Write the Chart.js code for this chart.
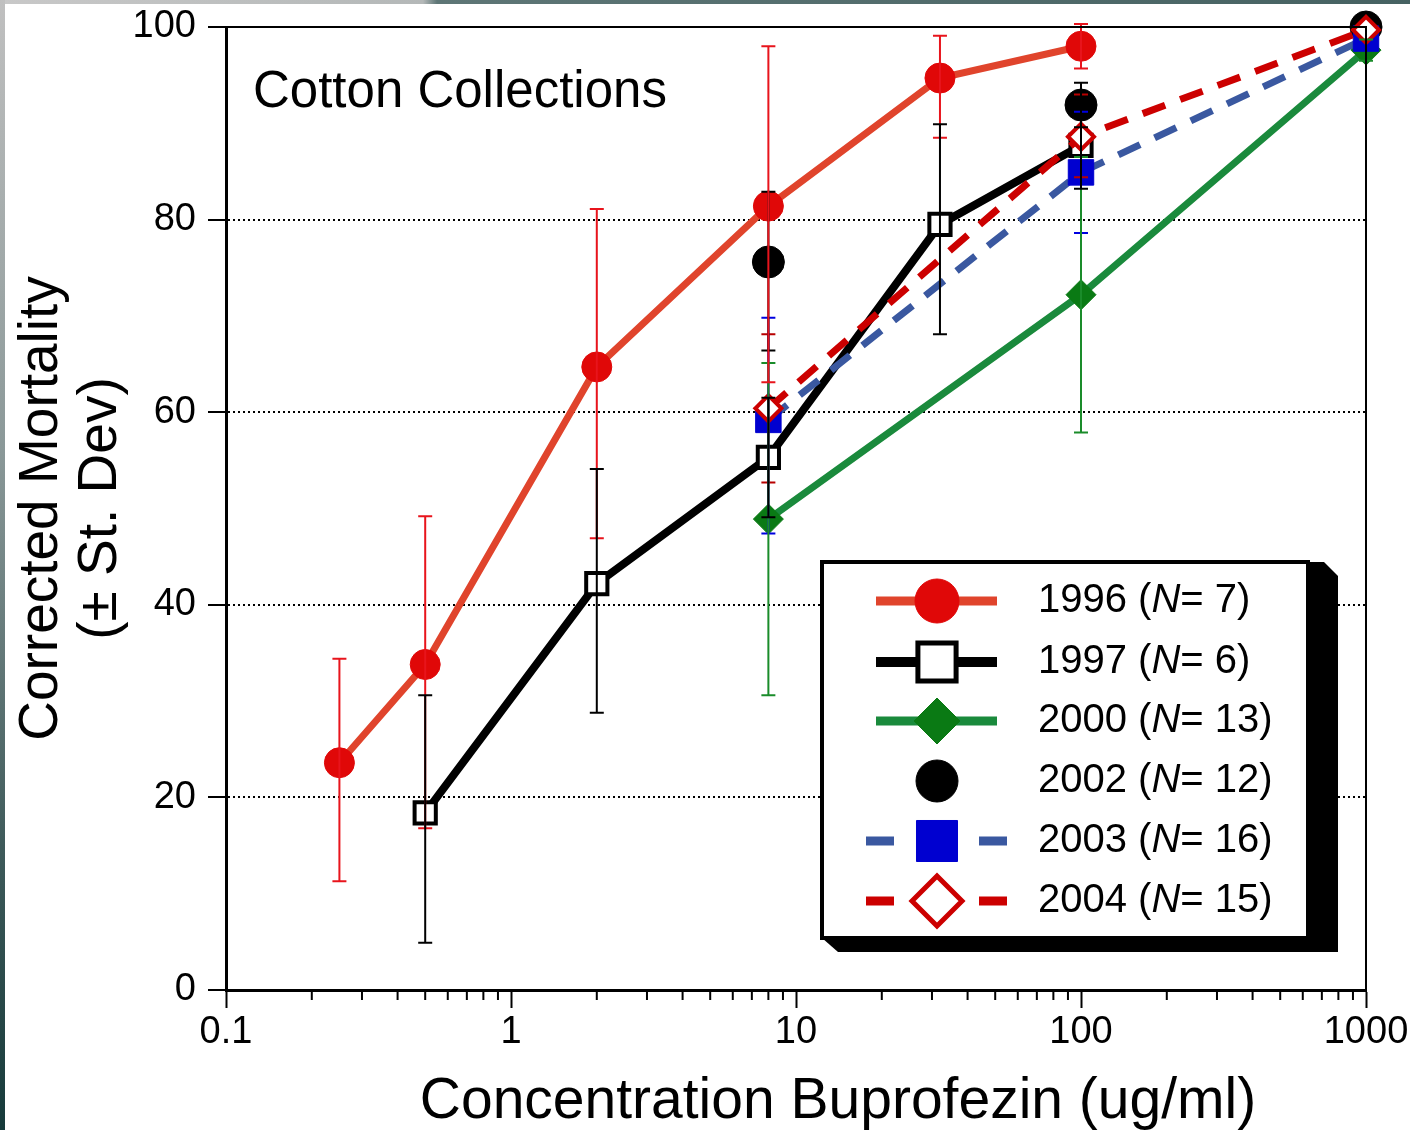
<!DOCTYPE html>
<html>
<head>
<meta charset="utf-8">
<script src="https://cdn.jsdelivr.net/npm/chart.js@4/dist/chart.umd.min.js"></script>
<style>
html,body{margin:0;padding:0;background:#fff;}
#wrap{position:relative;width:1410px;height:1130px;overflow:hidden;background:#fff;}
#c{position:absolute;left:0;top:0;}
#topstrip{position:absolute;left:0;top:0;width:1410px;height:4px;background:linear-gradient(90deg,#c8c8c8 0%,#b4b8b8 30%,#5e7676 31%,#466262 100%);}
#leftstrip{position:absolute;left:0;top:0;width:5px;height:1130px;background:linear-gradient(180deg,#c0c0c0 0%,#8a9898 40%,#3e5a5a 75%,#163a3a 100%);}
</style>
</head>
<body>
<div id="wrap">
<canvas id="c" width="1410" height="1130"></canvas>
<div id="topstrip"></div>
<div id="leftstrip"></div>
</div>
<script>
// ---------------- DATA ----------------
const x1996 = [0.25, 0.5, 2, 8, 32, 100];
const y1996 = [23.6, 33.8, 64.7, 81.4, 94.7, 98.0];
const lo1996 = [11.3, 16.8, 46.9, 63.1, 88.5, 95.7];
const hi1996 = [34.4, 49.2, 81.1, 98.0, 99.1, 100.3];

const x1997 = [0.5, 2, 8, 32, 100];
const y1997 = [18.4, 42.2, 55.3, 79.5, 87.7];
const lo1997 = [4.9, 28.8, 49.1, 68.1, 83.2];
const hi1997 = [30.6, 54.1, 61.5, 89.9, 92.2];

const x2000 = [8, 100, 1000];
const y2000 = [48.9, 72.2, 97.6];
const lo2000 = [30.6, 57.9, 96.5];
const hi2000 = [65.1, 86.5, 98.7];

const x2002 = [8, 100, 1000];
const y2002 = [75.6, 91.9, 100];
const lo2002 = [66.4, 89.6, null];
const hi2002 = [82.9, 94.2, null];

const x2003 = [8, 100, 1000];
const y2003 = [59.2, 84.9, 98.8];
const lo2003 = [47.4, 78.6, null];
const hi2003 = [69.8, 91.2, null];

const x2004 = [8, 100, 1000];
const y2004 = [60.4, 88.6, 99.7];
const lo2004 = [52.7, 84.4, null];
const hi2004 = [68.1, 93.0, null];

const legendYears = ['1996', '1997', '2000', '2002', '2003', '2004'];
const legendN = ['7', '6', '13', '12', '16', '15'];

const xMajorTicks = [0.1, 1, 10, 100, 1000];
const xTickLabels = ['0.1', '1', '10', '100', '1000'];
const yTickStep = 20;

const chartTitle = 'Cotton Collections';
const xAxisTitle = 'Concentration Buprofezin (ug/ml)';
const yAxisTitle = ['Corrected Mortality', '(\u00B1 St. Dev)'];

// ---------------- HELPERS ----------------
const FONT = '"Liberation Sans", Arial, Helvetica, sans-serif';
const pts = (xs, ys) => xs.map((v, i) => ({x: v, y: ys[i]}));

const xAllTicks = [];
for (let d = 0; d < xMajorTicks.length; d++) {
  const base = xMajorTicks[d];
  xAllTicks.push(base);
  if (d < xMajorTicks.length - 1) {
    for (let m = 2; m <= 9; m++) xAllTicks.push(+(base * m).toPrecision(6));
  }
}
const isMajor = v => xMajorTicks.some(m => Math.abs(v - m) / m < 1e-9);

// ---------------- DATASETS ----------------
const datasets = [
  { label: '2004', data: pts(x2004, y2004), errLo: lo2004, errHi: hi2004, errColor: '#b80000',
    borderColor: '#cc0000', borderWidth: 7, borderDash: [24, 16],
    pointStyle: 'rectRot', pointRadius: 13, pointBackgroundColor: '#ffffff', pointBorderColor: '#cc0000', pointBorderWidth: 4,
    legendRadius: 25, legendDashed: true, order: 0 },
  { label: '2003', data: pts(x2003, y2003), errLo: lo2003, errHi: hi2003, errColor: '#0000e0',
    borderColor: '#3a58a0', borderWidth: 7, borderDash: [24, 16],
    pointStyle: 'rect', pointRadius: 18, pointBackgroundColor: '#0000d0', pointBorderColor: '#0000d0', pointBorderWidth: 1,
    legendRadius: 29, legendDashed: true, order: 1 },
  { label: '2000', data: pts(x2000, y2000), errLo: lo2000, errHi: hi2000, errColor: '#1a8c2a',
    borderColor: '#1a8a3c', borderWidth: 7,
    pointStyle: 'rectRot', pointRadius: 15, pointBackgroundColor: '#0a7a14', pointBorderColor: '#0a7a14', pointBorderWidth: 1,
    legendRadius: 23, order: 2 },
  { label: '2002', data: pts(x2002, y2002), errLo: lo2002, errHi: hi2002, errColor: '#000000',
    showLine: false, borderColor: '#000000', borderWidth: 0,
    pointStyle: 'circle', pointRadius: 16, pointBackgroundColor: '#000000', pointBorderColor: '#000000', pointBorderWidth: 1,
    legendRadius: 21, noLine: true, order: 3 },
  { label: '1996', data: pts(x1996, y1996), errLo: lo1996, errHi: hi1996, errColor: '#e8141c',
    borderColor: '#e0442c', borderWidth: 7,
    pointStyle: 'circle', pointRadius: 15, pointBackgroundColor: '#e00808', pointBorderColor: '#e00808', pointBorderWidth: 1,
    legendRadius: 22, order: 4 },
  { label: '1997', data: pts(x1997, y1997), errLo: lo1997, errHi: hi1997, errColor: '#000000',
    borderColor: '#000000', borderWidth: 8,
    pointStyle: 'rect', pointRadius: 15, pointBackgroundColor: '#ffffff', pointBorderColor: '#000000', pointBorderWidth: 4,
    legendRadius: 27, order: 5 }
];
datasets.forEach(d => { d.clip = false; d.tension = 0; d.fill = false; });

// ---------------- PLUGINS ----------------
const errorBars = {
  id: 'errorBars',
  afterDatasetsDraw(chart) {
    const {ctx, scales: {x, y}} = chart;
    ctx.save();
    ctx.setLineDash([]);
    chart.data.datasets.forEach(ds => {
      if (!ds.errLo) return;
      ds.data.forEach((p, j) => {
        const lo = ds.errLo[j], hi = ds.errHi[j];
        if (lo == null || hi == null) return;
        const px = x.getPixelForValue(p.x);
        const yl = y.getPixelForValue(lo), yh = y.getPixelForValue(hi);
        ctx.strokeStyle = ds.errColor;
        ctx.lineWidth = 2;
        ctx.beginPath();
        ctx.moveTo(px, yl); ctx.lineTo(px, yh);
        ctx.moveTo(px - 7, yl); ctx.lineTo(px + 7, yl);
        ctx.moveTo(px - 7, yh); ctx.lineTo(px + 7, yh);
        ctx.stroke();
      });
    });
    ctx.restore();
  }
};

const decorations = {
  id: 'decorations',
  afterDraw(chart) {
    const {ctx, chartArea: a, scales: {x}} = chart;
    ctx.save();
    ctx.strokeStyle = '#000';
    ctx.lineWidth = 2;
    ctx.beginPath();
    ctx.moveTo(a.left, a.top); ctx.lineTo(a.right, a.top); ctx.lineTo(a.right, a.bottom);
    ctx.stroke();
    ctx.beginPath();
    xAllTicks.forEach(v => {
      if (isMajor(v)) return;
      const px = x.getPixelForValue(v);
      ctx.moveTo(px, a.bottom); ctx.lineTo(px, a.bottom + 10);
    });
    ctx.stroke();

    ctx.fillStyle = '#000';
    ctx.font = '51px ' + FONT;
    ctx.textAlign = 'left';
    ctx.textBaseline = 'alphabetic';
    ctx.fillText(chartTitle, 253, 107);

    ctx.font = '57px ' + FONT;
    ctx.textAlign = 'center';
    ctx.textBaseline = 'middle';
    ctx.fillText(xAxisTitle, 838, 1102);

    const L = 822, T = 562, R = 1308, B = 938;
    ctx.fillStyle = '#000';
    ctx.beginPath();
    ctx.moveTo(R, T); ctx.lineTo(R + 16, T); ctx.lineTo(R + 30, T + 14);
    ctx.lineTo(R + 30, B + 14); ctx.lineTo(L + 16, B + 14); ctx.lineTo(L, B);
    ctx.closePath(); ctx.fill();
    ctx.fillStyle = '#fff';
    ctx.fillRect(L, T, R - L, B - T);
    ctx.strokeStyle = '#000';
    ctx.lineWidth = 4;
    ctx.strokeRect(L, T, R - L, B - T);

    const rowY = [601, 662, 721, 781, 841, 901];
    const order = ['1996', '1997', '2000', '2002', '2003', '2004'];
    const mx = 937;
    order.forEach((yr, i) => {
      const ds = chart.data.datasets.find(d => d.label === yr);
      const yy = rowY[i];
      ctx.save();
      ctx.setLineDash([]);
      if (!ds.noLine) {
        ctx.strokeStyle = ds.borderColor;
        ctx.lineWidth = ds.borderWidth + 2;
        ctx.beginPath();
        if (ds.legendDashed) {
          ctx.moveTo(866, yy); ctx.lineTo(894, yy);
          ctx.moveTo(979, yy); ctx.lineTo(1007, yy);
        } else {
          ctx.moveTo(876, yy); ctx.lineTo(997, yy);
        }
        ctx.stroke();
      }
      ctx.fillStyle = ds.pointBackgroundColor;
      ctx.strokeStyle = ds.pointBorderColor;
      ctx.lineWidth = ds.pointBorderWidth + (ds.pointBorderWidth > 2 ? 1 : 0);
      Chart.helpers.drawPoint(ctx, {pointStyle: ds.pointStyle, radius: ds.legendRadius, rotation: 0, borderWidth: ctx.lineWidth}, mx, yy);
      ctx.restore();

      const idx = legendYears.indexOf(yr);
      const part1 = legendYears[idx] + ' (';
      const part2 = 'N';
      const part3 = '= ' + legendN[idx] + ')';
      let tx = 1038;
      ctx.fillStyle = '#000';
      ctx.textAlign = 'left';
      ctx.textBaseline = 'middle';
      ctx.font = '40px ' + FONT;
      ctx.fillText(part1, tx, yy);
      tx += ctx.measureText(part1).width;
      ctx.font = 'italic 40px ' + FONT;
      ctx.fillText(part2, tx, yy);
      tx += ctx.measureText(part2).width;
      ctx.font = '40px ' + FONT;
      ctx.fillText(part3, tx, yy);
    });
    ctx.restore();
  }
};

// ---------------- CHART ----------------
new Chart(document.getElementById('c'), {
  type: 'line',
  data: { datasets },
  options: {
    responsive: false,
    animation: false,
    devicePixelRatio: 1,
    layout: { padding: { left: 0, right: 44, top: 27, bottom: 0 } },
    plugins: { legend: { display: false }, tooltip: { enabled: false }, title: { display: false } },
    elements: { line: { borderCapStyle: 'butt', borderJoinStyle: 'miter' } },
    scales: {
      x: {
        type: 'logarithmic',
        min: 0.1, max: 1000,
        afterBuildTicks: s => { s.ticks = xAllTicks.map(v => ({value: v, major: isMajor(v)})); },
        afterFit: s => { s.height = 140; s.paddingLeft = 0; s.paddingRight = 0; },
        ticks: {
          autoSkip: false, maxRotation: 0, minRotation: 0,
          font: { family: FONT, size: 38 }, color: '#000', padding: 2,
          callback: v => { const i = xMajorTicks.findIndex(m => Math.abs(v - m) / m < 1e-9); return i >= 0 ? xTickLabels[i] : ''; }
        },
        grid: {
          drawOnChartArea: false, drawTicks: true, tickLength: 18, tickWidth: 2,
          tickColor: c => (c.tick && isMajor(c.tick.value)) ? '#000' : 'rgba(0,0,0,0)'
        },
        border: { display: true, color: '#000', width: 3 },
        title: { display: false }
      },
      y: {
        type: 'linear',
        min: 0, max: 100,
        afterFit: s => { s.width = 226; s.paddingTop = 0; s.paddingBottom = 0; },
        ticks: { stepSize: yTickStep, font: { family: FONT, size: 38 }, color: '#000', padding: 12 },
        grid: {
          drawOnChartArea: true, drawTicks: true, tickLength: 18, tickWidth: 2, tickColor: '#000',
          lineWidth: 2,
          color: c => (c.tick && (c.tick.value === 0 || c.tick.value === 100)) ? 'rgba(0,0,0,0)' : '#000'
        },
        border: { display: true, color: '#000', width: 3, dash: [2, 3] },
        title: {
          display: true, text: yAxisTitle,
          font: { family: FONT, size: 55, lineHeight: 1.08 }, color: '#000',
          padding: { top: 12, bottom: 0 }
        }
      }
    }
  },
  plugins: [errorBars, decorations]
});
</script>
</body>
</html>
